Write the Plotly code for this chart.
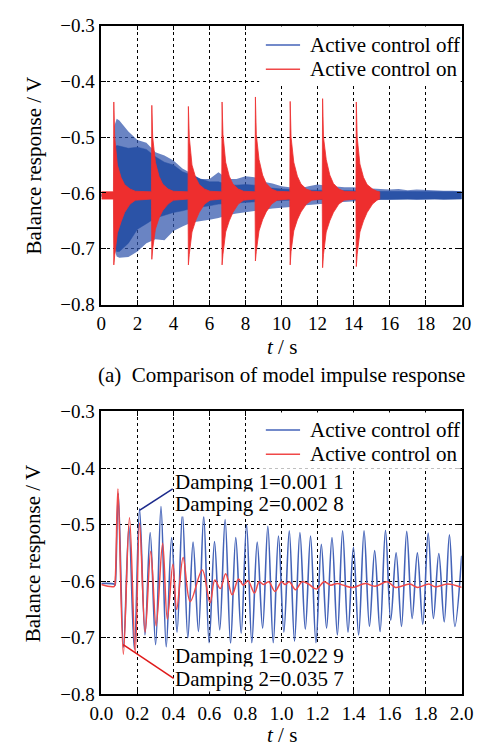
import plotly.graph_objects as go

# ---------------- Panel (a): 0-20 s, envelopes ----------------
blue_env_t = [0, 0.7, 0.72, 0.85, 1.0, 1.5, 2.0, 2.5, 3.0, 3.5, 4.0, 4.5, 5.0, 5.5, 6.0, 6.5,
              7.0, 7.5, 8.0, 8.5, 9.0, 9.5, 10.0, 10.5, 11.0, 11.5, 12.0, 12.5, 13.0, 13.5,
              14.0, 14.5, 15.0, 15.5, 16.0, 16.5, 17.0, 17.5, 18.0, 18.5, 19.0, 19.5, 20.0]
blue_outer_hi = [-0.602, -0.602, -0.48, -0.467, -0.47, -0.49, -0.505, -0.51, -0.527, -0.533,
                 -0.542, -0.556, -0.565, -0.575, -0.575, -0.563, -0.575, -0.575, -0.57, -0.572,
                 -0.58, -0.583, -0.588, -0.59, -0.592, -0.588, -0.585, -0.587, -0.589, -0.59,
                 -0.59, -0.592, -0.592, -0.593, -0.594, -0.593, -0.595, -0.594, -0.595, -0.596,
                 -0.596, -0.596, -0.597]
blue_outer_lo = [-0.607, -0.607, -0.70, -0.714, -0.716, -0.715, -0.705, -0.69, -0.683, -0.685,
                 -0.668, -0.66, -0.653, -0.65, -0.648, -0.645, -0.64, -0.637, -0.635, -0.632,
                 -0.63, -0.628, -0.626, -0.625, -0.623, -0.622, -0.62, -0.619, -0.617, -0.615,
                 -0.614, -0.613, -0.613, -0.612, -0.612, -0.612, -0.611, -0.612, -0.612, -0.611,
                 -0.612, -0.612, -0.611]
blue_inner_hi = [-0.603, -0.603, -0.52, -0.515, -0.516, -0.52, -0.518, -0.522, -0.535, -0.545,
                 -0.55, -0.562, -0.568, -0.575, -0.58, -0.58, -0.585, -0.586, -0.585, -0.586,
                 -0.59, -0.592, -0.593, -0.594, -0.595, -0.595, -0.595, -0.595, -0.596, -0.596,
                 -0.596, -0.597, -0.597, -0.597, -0.597, -0.597, -0.598, -0.598, -0.598, -0.598,
                 -0.598, -0.598, -0.598]
blue_inner_lo = [-0.606, -0.606, -0.69, -0.705, -0.705, -0.69, -0.665, -0.655, -0.645, -0.64,
                 -0.635, -0.632, -0.628, -0.625, -0.623, -0.62, -0.62, -0.618, -0.617, -0.616,
                 -0.615, -0.614, -0.613, -0.613, -0.612, -0.611, -0.611, -0.611, -0.611, -0.611,
                 -0.611, -0.611, -0.611, -0.611, -0.611, -0.611, -0.611, -0.611, -0.611, -0.611,
                 -0.611, -0.611, -0.611]

red_env_t = [0.0, 0.67, 0.69, 0.74, 0.89, 1.09, 1.29, 1.59, 1.89, 2.78,
             2.8, 2.85, 3.0, 3.2, 3.4, 3.7, 4.0, 4.81,
             4.83, 4.88, 5.03, 5.23, 5.43, 5.73, 6.03, 6.68,
             6.7, 6.75, 6.9, 7.1, 7.3, 7.6, 7.9, 8.53,
             8.55, 8.6, 8.75, 8.95, 9.15, 9.45, 9.75, 10.46,
             10.48, 10.53, 10.68, 10.88, 11.08, 11.38, 11.68, 12.26,
             12.28, 12.33, 12.48, 12.68, 12.88, 13.18, 13.48, 14.13,
             14.15, 14.2, 14.35, 14.55, 14.75, 15.05, 15.3, 15.45]
red_env_hi = [-0.598, -0.598, -0.437, -0.50, -0.55, -0.572, -0.585, -0.593, -0.597, -0.598,
              -0.443, -0.50, -0.545, -0.57, -0.584, -0.593, -0.597, -0.598,
              -0.445, -0.50, -0.55, -0.572, -0.585, -0.593, -0.597, -0.598,
              -0.437, -0.495, -0.545, -0.57, -0.584, -0.593, -0.597, -0.598,
              -0.428, -0.495, -0.54, -0.568, -0.583, -0.593, -0.597, -0.598,
              -0.436, -0.50, -0.545, -0.57, -0.584, -0.593, -0.597, -0.598,
              -0.431, -0.50, -0.54, -0.568, -0.583, -0.593, -0.597, -0.598,
              -0.437, -0.50, -0.548, -0.572, -0.585, -0.593, -0.597, -0.598]
red_env_lo = [-0.611, -0.611, -0.729, -0.712, -0.672, -0.652, -0.635, -0.62, -0.613, -0.611,
              -0.719, -0.70, -0.665, -0.645, -0.632, -0.62, -0.613, -0.611,
              -0.729, -0.71, -0.67, -0.65, -0.635, -0.62, -0.613, -0.611,
              -0.729, -0.71, -0.67, -0.65, -0.635, -0.62, -0.613, -0.611,
              -0.722, -0.705, -0.668, -0.648, -0.634, -0.62, -0.613, -0.611,
              -0.729, -0.705, -0.668, -0.648, -0.634, -0.62, -0.613, -0.611,
              -0.734, -0.71, -0.67, -0.65, -0.635, -0.62, -0.613, -0.611,
              -0.732, -0.71, -0.67, -0.65, -0.635, -0.62, -0.613, -0.611]

# ---------------- Panel (b): 0-2 s, extrema ----------------
blue2_t = [0.0, 0.07, 0.076, 0.08, 0.094, 0.123, 0.153, 0.183, 0.212, 0.242, 0.271, 0.301,
           0.331, 0.36, 0.39, 0.42, 0.45, 0.48, 0.509, 0.539, 0.568, 0.598, 0.628, 0.657,
           0.687, 0.717, 0.746, 0.776, 0.806, 0.835, 0.865, 0.895, 0.924, 0.954, 0.983, 1.013,
           1.043, 1.072, 1.102, 1.132, 1.161, 1.191, 1.221, 1.25, 1.28, 1.31, 1.339, 1.369,
           1.399, 1.428, 1.458, 1.488, 1.517, 1.547, 1.577, 1.606, 1.636, 1.666, 1.695, 1.725,
           1.754, 1.784, 1.814, 1.843, 1.873, 1.903, 1.932, 1.962, 2.0]
blue2_v = [-0.604, -0.605, -0.607, -0.59, -0.445, -0.717, -0.503, -0.72, -0.472, -0.695, -0.514, -0.712,
           -0.468, -0.716, -0.523, -0.69, -0.48, -0.70, -0.531, -0.689, -0.485, -0.709, -0.53, -0.686,
           -0.491, -0.71, -0.523, -0.692, -0.50, -0.709, -0.531, -0.683, -0.503, -0.709, -0.52, -0.69,
           -0.511, -0.706, -0.514, -0.685, -0.52, -0.709, -0.535, -0.683, -0.523, -0.695, -0.511, -0.69,
           -0.54, -0.695, -0.511, -0.68, -0.546, -0.689, -0.51, -0.669, -0.55, -0.68, -0.512, -0.666,
           -0.55, -0.676, -0.515, -0.666, -0.551, -0.672, -0.518, -0.68, -0.555]
red2_t = [0.0, 0.072, 0.077, 0.092, 0.122, 0.156, 0.188, 0.212, 0.243, 0.274, 0.304, 0.34,
          0.366, 0.397, 0.418, 0.454, 0.493, 0.56, 0.603, 0.63, 0.66, 0.69, 0.726, 0.761,
          0.788, 0.814, 0.85, 0.876, 0.9, 0.929, 0.964, 1.0, 1.02, 1.043, 1.078, 1.114,
          1.15, 1.193, 1.237, 1.272, 1.31, 1.342, 1.395, 1.465, 1.518, 1.588, 1.632, 1.712,
          1.756, 1.817, 1.853, 1.923, 2.0]
red2_v = [-0.606, -0.609, -0.598, -0.437, -0.729, -0.488, -0.726, -0.497, -0.69, -0.547, -0.679, -0.533,
          -0.667, -0.57, -0.65, -0.558, -0.636, -0.58, -0.638, -0.598, -0.613, -0.587, -0.624, -0.596,
          -0.607, -0.599, -0.621, -0.601, -0.606, -0.601, -0.618, -0.601, -0.606, -0.601, -0.615, -0.601,
          -0.605, -0.614, -0.601, -0.607, -0.604, -0.607, -0.611, -0.604, -0.609, -0.601, -0.611, -0.605,
          -0.611, -0.605, -0.61, -0.605, -0.611]

x1_ticks = [0, 2, 4, 6, 8, 10, 12, 14, 16, 18, 20]
x2_ticks = [0.0, 0.2, 0.4, 0.6, 0.8, 1.0, 1.2, 1.4, 1.6, 1.8, 2.0]
y_ticks = [-0.8, -0.7, -0.6, -0.5, -0.4, -0.3]

legend_names = ["Active control off", "Active control on"]
damp_off = ["Damping 1=0.001 1", "Damping 2=0.002 8"]
damp_on = ["Damping 1=0.022 9", "Damping 2=0.035 7"]
caption = "(a)  Comparison of model impulse response"

# ---------------- figure ----------------
W, H = 487, 752
FONT = "Liberation Serif"
FS_TICK = 19
FS = 21
BLUE = "#2b53a7"
BLUE_LIGHT = "rgba(48,84,172,0.72)"
BLUE_LINE = "#4463b8"
RED = "#ee2e2e"
RED_LINE = "#f04848"
LEG_COLORS = [BLUE_LINE, RED_LINE]

def band(t, hi, lo):
    return list(t) + list(t)[::-1], list(hi) + list(lo)[::-1]

fig = go.Figure()

bx, by = band(blue_env_t, blue_outer_hi, blue_outer_lo)
fig.add_trace(go.Scatter(x=bx, y=by, fill="toself", fillcolor=BLUE_LIGHT, mode="lines",
                         line=dict(width=0, color=BLUE_LIGHT), name=legend_names[0],
                         showlegend=False, xaxis="x", yaxis="y", hoverinfo="skip"))
bx, by = band(blue_env_t, blue_inner_hi, blue_inner_lo)
fig.add_trace(go.Scatter(x=bx, y=by, fill="toself", fillcolor=BLUE, mode="lines",
                         line=dict(width=0.5, color=BLUE), name=legend_names[0],
                         showlegend=False, xaxis="x", yaxis="y", hoverinfo="skip"))
rx, ry = band(red_env_t, red_env_hi, red_env_lo)
fig.add_trace(go.Scatter(x=rx, y=ry, fill="toself", fillcolor=RED, mode="lines",
                         line=dict(width=0.8, color=RED), name=legend_names[1],
                         showlegend=False, xaxis="x", yaxis="y", hoverinfo="skip"))

# panel (b)
fig.add_trace(go.Scatter(x=blue2_t, y=blue2_v, mode="lines", name=legend_names[0],
                         line=dict(color=BLUE_LINE, width=1.6, shape="spline", smoothing=1.0),
                         showlegend=False, xaxis="x2", yaxis="y2"))
fig.add_trace(go.Scatter(x=red2_t, y=red2_v, mode="lines", name=legend_names[1],
                         line=dict(color=RED_LINE, width=1.5, shape="spline", smoothing=1.0),
                         showlegend=False, xaxis="x2", yaxis="y2"))

def px_x(p):
    return p / W

def px_y(p):
    return 1 - p / H

dom_x = [px_x(94), px_x(473)]
dom_y1 = [px_y(303), px_y(16)]
dom_y2 = [px_y(704), px_y(413)]

axis_common = dict(showline=True, linecolor="black", linewidth=1.5, mirror="ticks",
                   ticks="inside", ticklen=5, tickwidth=1, tickcolor="black",
                   showgrid=True, gridcolor="black", gridwidth=1, griddash="3px,3px",
                   zeroline=False, tickfont=dict(family=FONT, size=FS_TICK, color="black"),
                   ticklabelstandoff=1)

fig.update_layout(
    width=W, height=H, autosize=False,
    margin=dict(l=0, r=0, t=0, b=0),
    paper_bgcolor="white", plot_bgcolor="white",
    font=dict(family=FONT, size=FS, color="black"),
    showlegend=False,
    xaxis=dict(domain=dom_x, anchor="y", range=[0, 20], tickvals=x1_ticks,
               ticktext=[str(v) for v in x1_ticks], **axis_common),
    yaxis=dict(domain=dom_y1, anchor="x", range=[-0.8, -0.3], tickvals=y_ticks,
               tickformat=".1f", **axis_common),
    xaxis2=dict(domain=dom_x, anchor="y2", range=[0, 2], tickvals=x2_ticks,
                tickformat=".1f", **axis_common),
    yaxis2=dict(domain=dom_y2, anchor="x2", range=[-0.8, -0.3], tickvals=y_ticks,
                tickformat=".1f", **axis_common),
)

ann = []
shapes = []
# y-axis titles
for yc in (160, 559):
    ann.append(dict(text="Balance response / V", xref="paper", yref="paper",
                    x=px_x(23), y=px_y(yc), textangle=-90, showarrow=False,
                    xanchor="center", yanchor="middle", font=dict(family=FONT, size=FS)))
# x-axis titles
ann.append(dict(text="<i>t</i> / s", xref="paper", yref="paper",
                x=px_x(283.5), y=px_y(347), showarrow=False,
                xanchor="center", yanchor="middle", font=dict(family=FONT, size=FS)))
ann.append(dict(text="<i>t</i> / s", xref="paper", yref="paper",
                x=px_x(283.5), y=0, yshift=-8, showarrow=False,
                xanchor="center", yanchor="bottom", font=dict(family=FONT, size=FS)))
ann.append(dict(text=caption, xref="paper", yref="paper", x=px_x(283.5), y=px_y(375),
                showarrow=False, xanchor="center", yanchor="middle",
                font=dict(family=FONT, size=FS)))
# damping labels
for txt, yv in zip(damp_off, (-0.4254, -0.463)):
    ann.append(dict(text=txt, xref="x2", yref="y2", x=0.404, y=yv, showarrow=False,
                    xanchor="left", yanchor="middle", bgcolor="white", borderpad=0,
                    font=dict(family=FONT, size=FS)))
for txt, yv in zip(damp_on, (-0.733, -0.7725)):
    ann.append(dict(text=txt, xref="x2", yref="y2", x=0.404, y=yv, showarrow=False,
                    xanchor="left", yanchor="middle", bgcolor="white", borderpad=0,
                    font=dict(family=FONT, size=FS)))

# legends (white box + line samples + labels)
for top, rows in ((16, (36, 61)), (413, (432, 457))):
    shapes.append(dict(type="rect", xref="paper", yref="paper", layer="above",
                       x0=px_x(260), x1=px_x(472), y0=px_y(top + 59), y1=px_y(top + 1),
                       fillcolor="white", line=dict(width=0)))
    for name, col, yr in zip(legend_names, LEG_COLORS, rows):
        shapes.append(dict(type="line", xref="paper", yref="paper", layer="above",
                           x0=px_x(267), x1=px_x(303), y0=px_y(yr), y1=px_y(yr),
                           line=dict(color=col, width=1.5)))
        ann.append(dict(text=name, xref="paper", yref="paper", x=px_x(311), y=px_y(yr),
                        showarrow=False, xanchor="left", yanchor="middle",
                        font=dict(family=FONT, size=FS)))

shapes.append(dict(type="line", xref="x2", yref="y2", x0=0.211, y0=-0.475, x1=0.396, y1=-0.437,
                   line=dict(color="#1c2a8c", width=1.5)))
shapes.append(dict(type="line", xref="x2", yref="y2", x0=0.121, y0=-0.712, x1=0.401, y1=-0.772,
                   line=dict(color="#e01a1a", width=1.5)))

fig.update_layout(annotations=ann, shapes=shapes)

fig.write_html("out.html")
